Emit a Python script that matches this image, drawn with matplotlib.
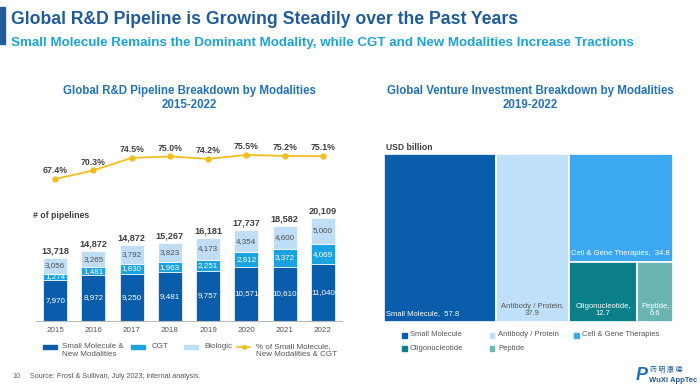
import matplotlib
matplotlib.use("Agg")
import matplotlib.pyplot as plt
from matplotlib.patches import Rectangle
from matplotlib.lines import Line2D

plt.rcParams['font.family'] = ['Liberation Sans', 'DejaVu Sans']

# ---- data: pipeline breakdown ----
years = ["2015", "2016", "2017", "2018", "2019", "2020", "2021", "2022"]
small_molecule = [7970, 8972, 9250, 9481, 9757, 10571, 10610, 11040]
cgt = [1274, 1481, 1830, 1963, 2251, 2812, 3372, 4069]
biologic = [3056, 3265, 3792, 3823, 4173, 4354, 4600, 5000]
total_labels = ["13,718", "14,872", "14,872", "15,267", "16,181", "17,737", "18,582", "20,109"]
pct_share = [67.4, 70.3, 74.5, 75.0, 74.2, 75.5, 75.2, 75.1]

# ---- data: venture investment ----
inv_names = ["Small Molecule", "Antibody / Protein", "Cell & Gene Therapies",
             "Oligonucleotide", "Peptide"]
inv_values = [57.8, 37.9, 34.8, 12.7, 6.6]

DARK = "#0A5DAA"
MID = "#1AA3E0"
LIGHT = "#BFDDF4"
GOLD = "#F0BE1E"
TXT = "#404040"
inv_colors = ["#0A5DAA", "#BFE0F8", "#3DA8F2", "#0B7F8A", "#6BB4B4"]

W, H = 700, 392
fig = plt.figure(figsize=(7, 3.92), dpi=100)
fig.patch.set_facecolor("white")


def px_axes(x0, y0, x1, y1):
    # axes from pixel box (top-left origin)
    return fig.add_axes([x0 / W, 1 - y1 / H, (x1 - x0) / W, (y1 - y0) / H])


def ftext(x, y, s, **kw):
    return fig.text(x / W, 1 - y / H, s, **kw)


def fbox(x, y, w, h, c):
    fig.patches.append(Rectangle((x / W, 1 - (y + h) / H), w / W, h / H,
                                 transform=fig.transFigure, color=c, zorder=5))


# header
fbox(0, 7, 5, 37, "#1F5C99")
ftext(11, 20, "Global R&D Pipeline is Growing Steadily over the Past Years",
      fontsize=12.7, fontweight="bold", color="#1F5C99", va="center")
ftext(11, 43, "Small Molecule Remains the Dominant Modality, while CGT and New Modalities Increase Tractions",
      fontsize=9.6, fontweight="bold", color="#1BA3D6", va="center")

ftext(189, 98, "Global R&D Pipeline Breakdown by Modalities\n2015-2022", fontsize=8.3,
      fontweight="bold", color="#2272B4", ha="center", va="center", linespacing=1.15)
ftext(530, 98, "Global Venture Investment Breakdown by Modalities\n2019-2022", fontsize=8.3,
      fontweight="bold", color="#2272B4", ha="center", va="center", linespacing=1.15)

# ---- stacked bars ----
ax = px_axes(36, 200, 342, 321)
x = range(len(years))
bw = 0.63
ax.bar(x, small_molecule, bw, color=DARK, edgecolor="white", linewidth=0.5)
ax.bar(x, cgt, bw, bottom=small_molecule, color=MID, edgecolor="white", linewidth=0.5)
bottom2 = [a + b for a, b in zip(small_molecule, cgt)]
ax.bar(x, biologic, bw, bottom=bottom2, color=LIGHT, edgecolor="white", linewidth=0.5)
for i in x:
    ax.text(i, small_molecule[i] / 2, f"{small_molecule[i]:,}", ha="center", va="center",
            color="white", fontsize=5.8)
    ax.text(i, small_molecule[i] + cgt[i] / 2, f"{cgt[i]:,}", ha="center", va="center",
            color="white", fontsize=5.8)
    ax.text(i, bottom2[i] + biologic[i] / 2, f"{biologic[i]:,}", ha="center", va="center",
            color="#505050", fontsize=5.8)
    ax.text(i, bottom2[i] + biologic[i] + 500, total_labels[i], ha="center", va="bottom",
            color=TXT, fontsize=6.6, fontweight="bold")
ax.set_xlim(-0.5, 7.5)
ax.set_ylim(0, 23630)
ax.set_xticks(list(x))
ax.set_xticklabels(years, fontsize=5.8, color="#555555")
ax.tick_params(axis="x", length=0, pad=4)
ax.set_yticks([])
for s in ["top", "right", "left"]:
    ax.spines[s].set_visible(False)
ax.spines["bottom"].set_color("#BBBBBB")
ax.spines["bottom"].set_linewidth(0.8)
ftext(33, 216, "# of pipelines", fontsize=6.3, fontweight="bold", color=TXT, va="center")

# ---- share line ----
lx = px_axes(36, 140, 342, 190)
lx.plot(list(x), pct_share, color=GOLD, marker="o", markersize=3.5, linewidth=1.3)
for i in x:
    lx.text(i, pct_share[i] + 1.3, f"{pct_share[i]:.1f}%", ha="center", va="bottom",
            fontsize=6.3, fontweight="bold", color=TXT)
lx.set_xlim(-0.5, 7.5)
lx.set_ylim(63.69, 80.56)
lx.axis("off")

# left legend (manual placement)
leg_labels = ["Small Molecule &\nNew Modalities", "CGT", "Biologic",
              "% of Small Molecule,\nNew Modalities & CGT"]
fbox(43, 345, 14, 4, DARK)
fbox(131, 345, 14, 4, MID)
fbox(184, 345, 14, 4, LIGHT)
fig.lines.append(Line2D([237 / W, 250 / W], [1 - 347 / H, 1 - 347 / H], color=GOLD,
                        linewidth=1.2, transform=fig.transFigure))
fig.lines.append(Line2D([243.5 / W], [1 - 347 / H], color=GOLD, marker="o", markersize=2.5,
                        transform=fig.transFigure))
for lxp, lab in zip([62, 152, 204, 256], leg_labels):
    ftext(lxp, 343, lab, fontsize=5.8, color="#555555", va="top", linespacing=1.15)

# ---- treemap ----
tx = px_axes(384, 154, 673, 322)
total = sum(inv_values)
tx.set_xlim(0, total)
tx.set_ylim(0, 1)
rest = inv_values[2] + inv_values[3] + inv_values[4]
x_sm, w_sm = 0, inv_values[0]
x_ab, w_ab = inv_values[0], inv_values[1]
x_r = inv_values[0] + inv_values[1]
h_cgt = inv_values[2] / rest
h_low = 1 - h_cgt
low = inv_values[3] + inv_values[4]
w_ol = rest * inv_values[3] / low
w_pe = rest * inv_values[4] / low
rects = [(x_sm, 0, w_sm, 1), (x_ab, 0, w_ab, 1), (x_r, h_low, rest, h_cgt),
         (x_r, 0, w_ol, h_low), (x_r + w_ol, 0, w_pe, h_low)]
for (rx, ry, rw, rh), c in zip(rects, inv_colors):
    tx.add_patch(Rectangle((rx, ry), rw, rh, facecolor=c, edgecolor="white", linewidth=1.2))
tfs = 5.5
tx.text(x_sm + 1.2, 0.03, f"{inv_names[0]},  {inv_values[0]}", color="white", fontsize=tfs,
        va="bottom")
tx.text(x_ab + w_ab / 2, 0.03, f"{inv_names[1]},\n{inv_values[1]}", color="#555555",
        fontsize=tfs, ha="center", va="bottom", linespacing=1.0)
tx.text(x_r + 1.2, h_low + 0.03, f"{inv_names[2]},  {inv_values[2]}", color="white",
        fontsize=tfs, va="bottom")
tx.text(x_r + w_ol / 2, 0.03, f"{inv_names[3]},\n{inv_values[3]}", color="white",
        fontsize=tfs, ha="center", va="bottom", linespacing=1.0)
tx.text(x_r + w_ol + w_pe / 2, 0.03, f"{inv_names[4]},\n{inv_values[4]}", color="white",
        fontsize=tfs, ha="center", va="bottom", linespacing=1.0)
tx.axis("off")
ftext(386, 147, "USD billion", fontsize=6.2, fontweight="bold", color=TXT, va="center")

# right legend
leg_pos = [(402, 335), (490, 335), (574, 335), (402, 348), (490, 348)]
for (lxp, lyp), name, c in zip(leg_pos, inv_names, inv_colors):
    fbox(lxp, lyp - 2, 4.5, 4.5, c)
    ftext(lxp + 8, lyp, name, fontsize=5.5, color="#555555", va="center")

# footer
ftext(12, 377, "10", fontsize=5.2, color="#666666", va="center")
ftext(30, 377, "Source: Frost & Sullivan, July 2023; internal analysis.", fontsize=5.2,
      color="#555555", va="center")
ftext(636, 376, "P", fontsize=13, fontweight="bold", color="#1F6FB8", va="center",
      fontstyle="italic")
ftext(650, 370, "药 明 康 德", fontsize=5, color="#1F5C99", va="center",
      family=["Noto Sans CJK SC", "DejaVu Sans"])
ftext(649, 381, "WuXi AppTec", fontsize=5.5, fontweight="bold", color="#1F5C99", va="center")

fig.savefig("out.png", dpi=100)
